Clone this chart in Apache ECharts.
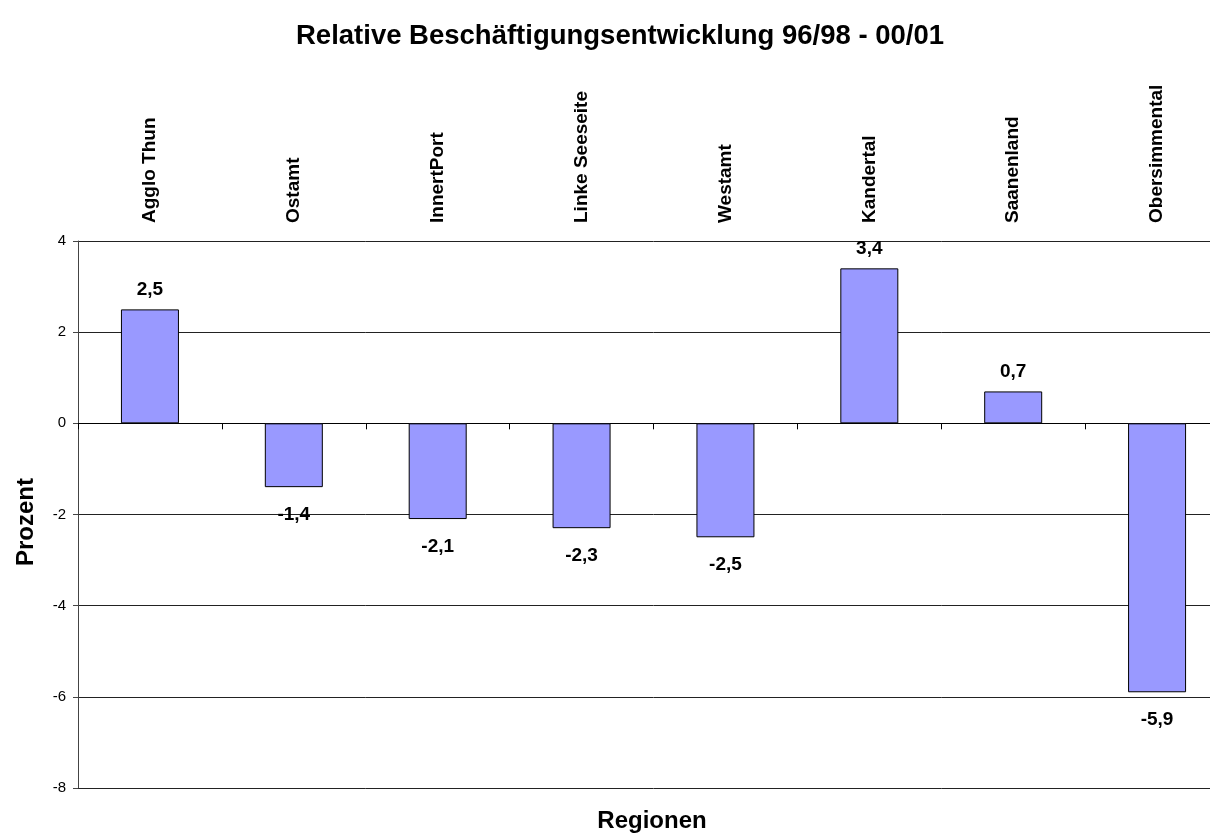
<!DOCTYPE html>
<html>
<head>
<meta charset="utf-8">
<script src="https://cdn.jsdelivr.net/npm/echarts@6/dist/echarts.min.js"></script>
<style>
html,body{margin:0;padding:0;background:#fff;overflow:hidden;}
#c{width:1229px;height:837px;}
</style>
</head>
<body>
<div id="c"></div>
<script>
const categories = ["Agglo Thun", "Ostamt", "InnertPort", "Linke Seeseite", "Westamt", "Kandertal", "Saanenland", "Obersimmental"];
const values = [2.5, -1.4, -2.1, -2.3, -2.5, 3.4, 0.7, -5.9];
const yTicks = [-8, -6, -4, -2, 0, 2, 4];

const FONT = '"Liberation Sans", Arial, sans-serif';
const chart = echarts.init(document.getElementById('c'), null, {renderer: 'canvas'});
chart.setOption({
  animation: false,
  backgroundColor: '#fff',
  graphic: [
    {type: 'text', x: 620, y: 36,
     style: {text: 'Relative Beschäftigungsentwicklung 96/98 - 00/01', font: 'bold 27.5px ' + FONT, fill: '#000', textAlign: 'center', textVerticalAlign: 'middle'}},
    {type: 'text', x: 652, y: 821,
     style: {text: 'Regionen', font: 'bold 24px ' + FONT, fill: '#000', textAlign: 'center', textVerticalAlign: 'middle'}},
    {type: 'text', x: 26, y: 522, rotation: Math.PI / 2,
     style: {text: 'Prozent', font: 'bold 24px ' + FONT, fill: '#000', textAlign: 'center', textVerticalAlign: 'middle'}}
  ],
  grid: {left: 78, top: 241, right: 0, bottom: 49, containLabel: false},
  xAxis: [
    {type: 'category', data: categories, position: 'top',
     axisLine: {show: false, onZero: false}, axisTick: {show: false}, splitLine: {show: false},
     axisLabel: {rotate: -90, margin: 18, fontFamily: FONT, fontSize: 19, fontWeight: 'bold', color: '#000', interval: 0}},
    {type: 'category', data: categories, position: 'bottom',
     axisLine: {show: true, onZero: true, lineStyle: {color: '#000', width: 1}},
     axisTick: {show: true, length: 6, inside: false, lineStyle: {color: '#000'}},
     axisLabel: {show: false}, splitLine: {show: false}}
  ],
  yAxis: {
    type: 'value', min: -8, max: 4, interval: 2,
    axisLine: {show: true, lineStyle: {color: '#444'}},
    axisTick: {show: true, length: 5, lineStyle: {color: '#444'}},
    axisLabel: {fontFamily: FONT, fontSize: 15, color: '#000', margin: 12,
      formatter: v => yTicks.includes(v) ? String(v) : ''},
    splitLine: {show: true, lineStyle: {color: '#222', width: 1}}
  },
  series: [{
    type: 'bar', xAxisIndex: 0, barWidth: 58,
    itemStyle: {color: '#9999FF', borderColor: '#000', borderWidth: 1},
    data: values.map(v => ({
      value: v,
      label: {show: true, position: v >= 0 ? 'top' : 'bottom', distance: v >= 0 ? 10 : 18}
    })),
    label: {fontFamily: FONT, fontSize: 19, fontWeight: 'bold', color: '#000',
      formatter: p => String(p.value).replace('.', ',')}
  }]
});
</script>
</body>
</html>
